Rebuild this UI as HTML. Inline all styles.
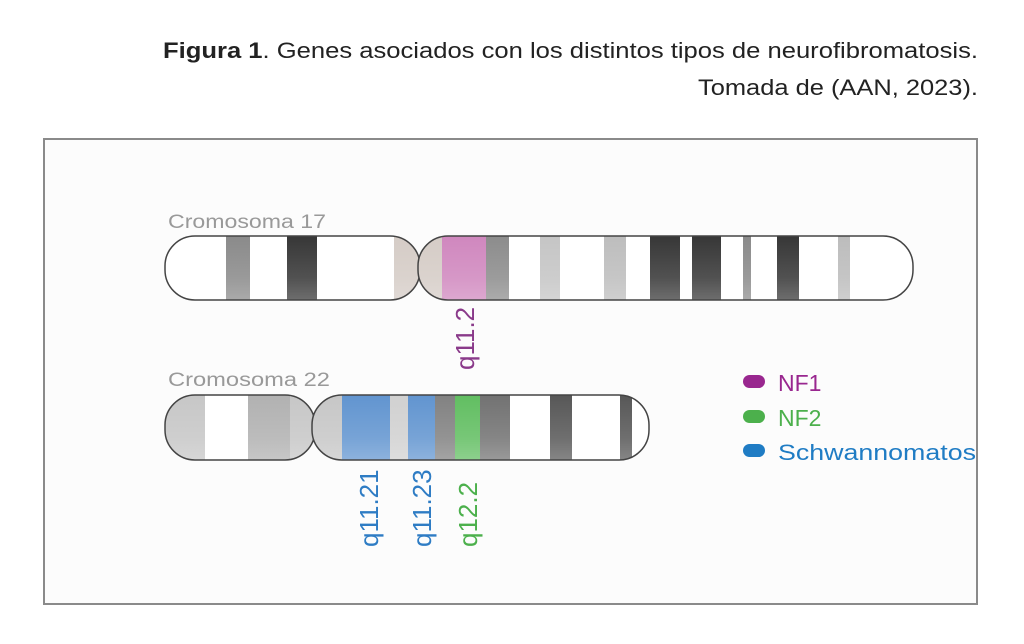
<!DOCTYPE html>
<html><head><meta charset="utf-8"><style>
html,body{margin:0;padding:0;background:#fff;}
svg{display:block}
</style></head><body>
<svg width="1024" height="644" viewBox="0 0 1024 644" xmlns="http://www.w3.org/2000/svg" font-family="Liberation Sans, DejaVu Sans, sans-serif">
<defs>
<linearGradient id="sh" x1="0" y1="0" x2="0" y2="1">
<stop offset="0" stop-color="#fff" stop-opacity="0"/>
<stop offset="0.6" stop-color="#fff" stop-opacity="0.15"/>
<stop offset="1" stop-color="#fff" stop-opacity="0.35"/>
</linearGradient>
<clipPath id="c17a"><rect x="165" y="236" width="255" height="64" rx="30"/></clipPath>
<clipPath id="c17b"><rect x="418" y="236" width="495" height="64" rx="30"/></clipPath>
<clipPath id="c22a"><rect x="165" y="395" width="150" height="65" rx="30"/></clipPath>
<clipPath id="c22b"><rect x="312" y="395" width="337" height="65" rx="30"/></clipPath>
</defs>
<text x="978" y="58" text-anchor="end" font-size="22" fill="#222" textLength="815" lengthAdjust="spacingAndGlyphs"><tspan font-weight="bold">Figura 1</tspan>. Genes asociados con los distintos tipos de neurofibromatosis.</text>
<text x="978" y="95" text-anchor="end" font-size="22" fill="#222" textLength="280" lengthAdjust="spacingAndGlyphs">Tomada de (AAN, 2023).</text>
<rect x="44" y="139" width="933" height="465" fill="#fcfcfc" stroke="#8a8a8a" stroke-width="2"/>

<text x="168" y="228" font-size="19" fill="#999" textLength="158" lengthAdjust="spacingAndGlyphs">Cromosoma 17</text>
<g clip-path="url(#c17a)">
<rect x="160" y="230" width="270" height="80" fill="#fff"/>
<rect x="226" y="230" width="24" height="80" fill="#888"/>
<rect x="287" y="230" width="30" height="80" fill="#333"/>
<rect x="394" y="230" width="30" height="80" fill="#d4cbc5"/>
<rect x="160" y="230" width="270" height="80" fill="url(#sh)"/>
</g>
<rect x="165" y="236" width="255" height="64" rx="30" fill="none" stroke="#444" stroke-width="1.5"/>
<g clip-path="url(#c17b)">
<rect x="410" y="230" width="510" height="80" fill="#fff"/>
<rect x="410" y="230" width="32" height="80" fill="#d4cbc5"/>
<rect x="442" y="230" width="44" height="80" fill="#cf85bd"/>
<rect x="486" y="230" width="23" height="80" fill="#8a8a8a"/>
<rect x="540" y="230" width="20" height="80" fill="#c4c4c4"/>
<rect x="604" y="230" width="22" height="80" fill="#bcbcbc"/>
<rect x="650" y="230" width="30" height="80" fill="#333"/>
<rect x="692" y="230" width="29" height="80" fill="#333"/>
<rect x="743" y="230" width="8" height="80" fill="#888"/>
<rect x="777" y="230" width="22" height="80" fill="#333"/>
<rect x="838" y="230" width="12" height="80" fill="#bbb"/>
<rect x="410" y="230" width="510" height="80" fill="url(#sh)"/>
</g>
<rect x="418" y="236" width="495" height="64" rx="30" fill="none" stroke="#444" stroke-width="1.5"/>
<text transform="translate(474,370) rotate(-90)" font-size="26" fill="#8a3a8a">q11.2</text>

<text x="168" y="386" font-size="19" fill="#999" textLength="162" lengthAdjust="spacingAndGlyphs">Cromosoma 22</text>
<g clip-path="url(#c22a)">
<rect x="160" y="390" width="160" height="80" fill="#c6c6c6"/>
<rect x="205" y="390" width="43" height="80" fill="#fff"/>
<rect x="248" y="390" width="42" height="80" fill="#b0b0b0"/>
<rect x="160" y="390" width="160" height="80" fill="url(#sh)"/>
</g>
<rect x="165" y="395" width="150" height="65" rx="30" fill="none" stroke="#444" stroke-width="1.5"/>
<g clip-path="url(#c22b)">
<rect x="305" y="390" width="350" height="80" fill="#fff"/>
<rect x="305" y="390" width="37" height="80" fill="#c6c6c6"/>
<rect x="342" y="390" width="48" height="80" fill="#5f93cf"/>
<rect x="390" y="390" width="18" height="80" fill="#d0d0d0"/>
<rect x="408" y="390" width="27" height="80" fill="#5f93cf"/>
<rect x="435" y="390" width="20" height="80" fill="#808080"/>
<rect x="455" y="390" width="25" height="80" fill="#5fbd5f"/>
<rect x="480" y="390" width="30" height="80" fill="#707070"/>
<rect x="550" y="390" width="22" height="80" fill="#555"/>
<rect x="620" y="390" width="12" height="80" fill="#555"/>
<rect x="305" y="390" width="350" height="80" fill="url(#sh)"/>
</g>
<rect x="312" y="395" width="337" height="65" rx="30" fill="none" stroke="#444" stroke-width="1.5"/>
<text transform="translate(378,547) rotate(-90)" font-size="26" fill="#2e7cc4">q11.21</text>
<text transform="translate(431,547) rotate(-90)" font-size="26" fill="#2e7cc4">q11.23</text>
<text transform="translate(477,547) rotate(-90)" font-size="26" fill="#4cb04c">q12.2</text>

<rect x="743" y="375" width="22" height="13" rx="6.5" fill="#99278f"/>
<text x="778" y="391" font-size="23" fill="#99278f">NF1</text>
<rect x="743" y="410" width="22" height="13" rx="6.5" fill="#4cb04c"/>
<text x="778" y="426" font-size="23" fill="#4cb04c">NF2</text>
<rect x="743" y="444" width="22" height="13" rx="6.5" fill="#1f7cc4"/>
<text x="778" y="460" font-size="22" fill="#1f7cc4" textLength="198" lengthAdjust="spacingAndGlyphs">Schwannomatos</text>
</svg>
</body></html>
